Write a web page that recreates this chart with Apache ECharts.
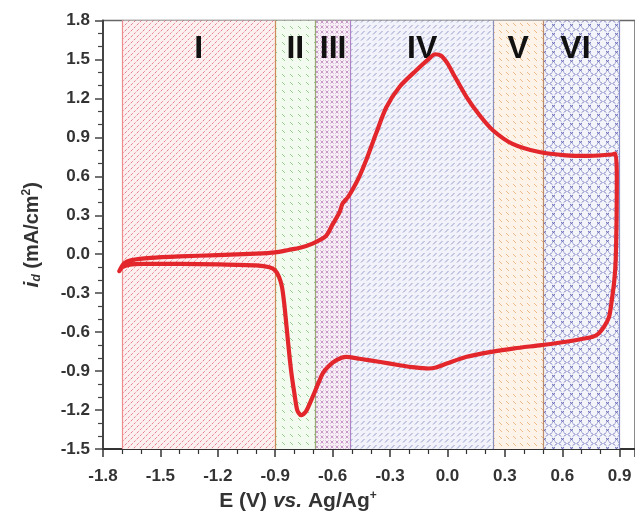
<!DOCTYPE html>
<html>
<head>
<meta charset="utf-8">
<script src="https://cdn.jsdelivr.net/npm/echarts@6/dist/echarts.min.js"></script>
<style>
  html, body { margin: 0; padding: 0; background: #fff; }
  #chart { width: 635px; height: 519px; }
</style>
</head>
<body>
<div id="chart"></div>
<script>
// region boundaries (V) and their names
const regionNames = ['I', 'II', 'III', 'IV', 'V', 'VI'];
const regionEdges = [-1.70, -0.90, -0.69, -0.505, 0.24, 0.50, 0.90];

// anodic sweep, -1.7 V -> +0.88 V (upper branch)
const forwardE = [-1.715, -1.69, -1.65, -1.55, -1.40, -1.20, -1.00, -0.90, -0.83, -0.77, -0.705, -0.635,
  -0.60, -0.565, -0.548, -0.52, -0.495, -0.46, -0.425, -0.373, -0.32, -0.25, -0.164, -0.10, -0.065,
  -0.035, 0.00, 0.03, 0.10, 0.168, 0.237, 0.34, 0.48, 0.62, 0.74, 0.86, 0.878];
const forwardI = [-0.13, -0.07, -0.045, -0.028, -0.017, -0.007, 0.004, 0.014, 0.033, 0.05, 0.082, 0.14,
  0.23, 0.32, 0.39, 0.44, 0.50, 0.60, 0.723, 0.93, 1.13, 1.29, 1.415, 1.50, 1.54,
  1.53, 1.47, 1.39, 1.21, 1.07, 0.955, 0.85, 0.787, 0.762, 0.758, 0.768, 0.775];

// cathodic sweep, back to -1.7 V (lower branch)
const reverseE = [0.885, 0.884, 0.879, 0.872, 0.86, 0.845, 0.822, 0.79, 0.76, 0.62, 0.49, 0.35, 0.237,
  0.10, 0.00, -0.06, -0.10, -0.17, -0.25, -0.35, -0.46, -0.53, -0.58, -0.62, -0.652, -0.705, -0.74,
  -0.765, -0.785, -0.80, -0.815, -0.827, -0.84, -0.853, -0.865, -0.88, -0.90, -0.93, -1.00, -1.20,
  -1.40, -1.60, -1.66, -1.70, -1.715];
const reverseI = [0.60, 0.30, -0.05, -0.20, -0.34, -0.48, -0.55, -0.61, -0.636, -0.674, -0.70, -0.725, -0.75,
  -0.79, -0.84, -0.872, -0.88, -0.872, -0.855, -0.83, -0.805, -0.79, -0.815, -0.86, -0.918, -1.10, -1.213,
  -1.24, -1.20, -1.07, -0.92, -0.764, -0.57, -0.38, -0.25, -0.175, -0.125, -0.10, -0.086, -0.078,
  -0.075, -0.075, -0.08, -0.10, -0.13];

// fill patterns for each region
function tile(size, bg, draw) {
  const c = document.createElement('canvas');
  c.width = c.height = size;
  const ctx = c.getContext('2d');
  ctx.fillStyle = bg;
  ctx.fillRect(0, 0, size, size);
  ctx.lineWidth = 1;
  draw(ctx, size);
  return { image: c, repeat: 'repeat' };
}
const seg = (col, x1, y1, x2, y2) => (ctx) => {
  ctx.strokeStyle = col;
  ctx.beginPath(); ctx.moveTo(x1, y1); ctx.lineTo(x2, y2); ctx.stroke();
};
const patterns = [
  tile(6, '#fdf0f1', (ctx, s) => {
    ctx.strokeStyle = '#e87f8c';
    ctx.setLineDash([2.5, 1.5]);
    ctx.beginPath(); ctx.moveTo(-1, s + 1); ctx.lineTo(s + 1, -1); ctx.stroke();
  }),
  tile(8, '#f3faef', seg('#93cc8e', 2, 2, 5, 5)),
  tile(5, '#f8eef6', (ctx) => {
    ctx.strokeStyle = '#c79ac8';
    ctx.beginPath(); ctx.moveTo(0.5, 0.5); ctx.lineTo(3.5, 3.5); ctx.moveTo(3.5, 0.5); ctx.lineTo(0.5, 3.5); ctx.stroke();
  }),
  tile(6, '#f2f3fa', seg('#959bca', 1, 4.5, 4.5, 1)),
  tile(7, '#fdf3e8', seg('#ecba88', 2, 2, 5, 5)),
  tile(9, '#f4f4fb', (ctx) => {
    ctx.strokeStyle = '#6c70b8';
    ctx.beginPath();
    ctx.moveTo(3, 0.5); ctx.lineTo(1, 2.5); ctx.lineTo(3, 4.5);
    ctx.moveTo(6, 0.5); ctx.lineTo(8, 2.5); ctx.lineTo(6, 4.5);
    ctx.moveTo(3, 6); ctx.lineTo(6, 8.5); ctx.moveTo(6, 6); ctx.lineTo(3, 8.5);
    ctx.stroke();
  })
];
const edgeColors = ['#ee8a8a', '#c98d55', '#9aa877', '#ae84c6', '#8c8fbd', '#bd8a6a', '#8790c8'];

const curve = forwardE.map((e, k) => [e, forwardI[k]])
  .concat(reverseE.map((e, k) => [e, reverseI[k]]));

const font = '"Liberation Sans", Arial, sans-serif';
const chart = echarts.init(document.getElementById('chart'));
chart.setOption({
  animation: false,
  backgroundColor: '#fff',
  grid: { left: 103, top: 20.5, right: 0, bottom: 70, show: true, borderColor: '#666', borderWidth: 1.5 },
  xAxis: {
    type: 'value', min: -1.8, max: 0.98, interval: 0.3,
    name: 'E (V) {it|vs.} Ag/Ag{sup|+}',
    nameLocation: 'middle', nameGap: 40,
    nameTextStyle: {
      fontFamily: font, fontWeight: 'bold', fontSize: 21, color: '#333', padding: [0, 142, 0, 0],
      rich: {
        it: { fontFamily: font, fontWeight: 'bold', fontStyle: 'italic', fontSize: 21, color: '#333' },
        sup: { fontFamily: font, fontWeight: 'bold', fontSize: 12, color: '#333', verticalAlign: 'top', padding: [0, 0, 10, 0] }
      }
    },
    axisLine: { show: true, onZero: false, lineStyle: { color: '#333', width: 2 } },
    axisTick: { show: true, length: 8, lineStyle: { color: '#333', width: 1.5 } },
    minorTick: { show: true, splitNumber: 3, length: 5, lineStyle: { color: '#333', width: 1.2 } },
    splitLine: { show: false },
    axisLabel: {
      showMaxLabel: false, margin: 19, fontFamily: font, fontWeight: 'bold', fontSize: 17, color: '#333',
      formatter: v => v.toFixed(1)
    }
  },
  yAxis: {
    type: 'value', min: -1.5, max: 1.8, interval: 0.3,
    name: '{i|i}{sub|d} (mA/cm{sup|2})',
    nameLocation: 'middle', nameRotate: 90, nameGap: 60,
    nameTextStyle: {
      fontFamily: font, fontWeight: 'bold', fontSize: 20, color: '#333',
      rich: {
        i: { fontFamily: font, fontWeight: 'bold', fontStyle: 'italic', fontSize: 21, color: '#333' },
        sub: { fontFamily: font, fontWeight: 'bold', fontStyle: 'italic', fontSize: 12, color: '#333', verticalAlign: 'bottom', padding: [6, 0, 0, 0] },
        sup: { fontFamily: font, fontWeight: 'bold', fontSize: 12, color: '#333', verticalAlign: 'top', padding: [0, 0, 10, 0] }
      }
    },
    axisLine: { show: true, onZero: false, lineStyle: { color: '#444', width: 2 } },
    axisTick: { show: true, length: 8, lineStyle: { color: '#444', width: 1.5 } },
    minorTick: { show: true, splitNumber: 3, length: 5, lineStyle: { color: '#444', width: 1.2 } },
    splitLine: { show: false },
    axisLabel: { margin: 13, fontFamily: font, fontWeight: 'bold', fontSize: 17, color: '#333', formatter: v => v.toFixed(1) }
  },
  series: [
    {
      type: 'line', data: [], z: 1, silent: true,
      markArea: {
        silent: true,
        data: regionNames.map((n, k) => [
          {
            name: n, xAxis: regionEdges[k],
            itemStyle: { color: patterns[k], opacity: 1, borderWidth: 0 },
            label: {
              show: true, position: 'insideTop', distance: 13, offset: [n === 'VI' ? -6 : 0, 0],
              fontFamily: font, fontWeight: 'bold', fontSize: 32, color: '#111'
            }
          },
          { xAxis: regionEdges[k + 1] }
        ])
      },
      markLine: {
        silent: true, symbol: 'none', label: { show: false },
        data: regionEdges.map((e, k) => ({ xAxis: e, lineStyle: { color: edgeColors[k], width: 1.2, type: 'solid' } }))
      }
    },
    {
      type: 'line', data: curve, z: 5, smooth: 0.25, showSymbol: false, silent: true,
      lineStyle: { color: '#e3262b', width: 4.2, join: 'round', cap: 'round' }
    }
  ]
});
</script>
</body>
</html>
